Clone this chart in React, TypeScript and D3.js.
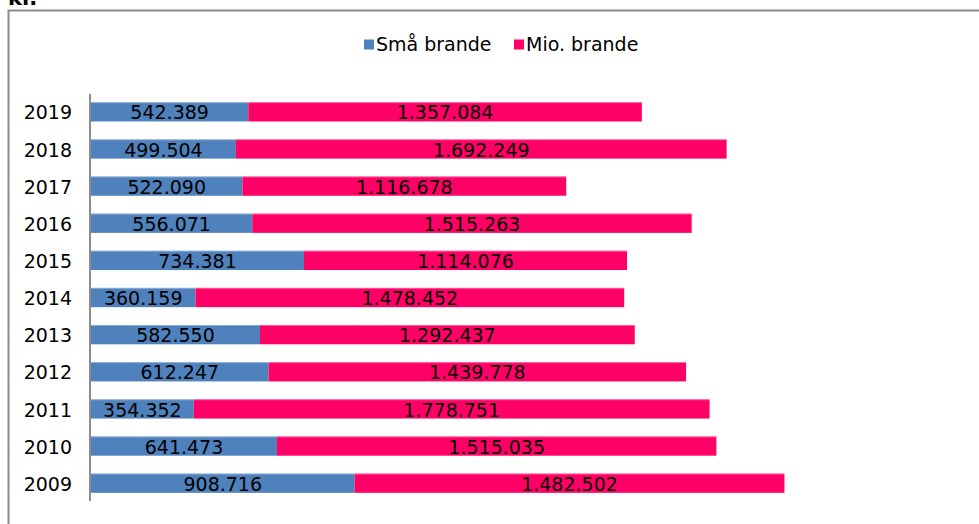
import React from "react";
import * as d3 from "d3";

// years top to bottom, as shown
const years = ["2019", "2018", "2017", "2016", "2015", "2014", "2013", "2012", "2011", "2010", "2009"];
const smaBrande = [542389, 499504, 522090, 556071, 734381, 360159, 582550, 612247, 354352, 641473, 908716];
const mioBrande = [1357084, 1692249, 1116678, 1515263, 1114076, 1478452, 1292437, 1439778, 1778751, 1515035, 1482502];
const seriesNames = ["Små brande", "Mio. brande"];
const colors = ["#4F81BD", "#FF0066"];

const W = 979;
const H = 524;
const FONT = "Verdana, 'DejaVu Sans', sans-serif";

const fmt = (v: number) => d3.format(",")(v).replace(/,/g, ".");

export default function App() {
  const x = d3.scaleLinear().domain([0, 2500000]).range([91, 816]);
  const y = d3.scaleBand().domain(years).range([94, 501]).paddingInner(0.48).paddingOuter(0.22);

  const rows = years.map((yr, i) => ({ yr, a: smaBrande[i], b: mioBrande[i] }));

  return (
    <svg width={W} height={H} style={{ position: "absolute", left: 0, top: 0 }} fontFamily={FONT}>
      <rect width={W} height={H} fill="#fff" />
      <text x={8} y={5} fontSize={21} fontWeight="bold" fill="#000">kr.</text>
      {/* chart frame */}
      <path d={`M8.5,${H + 5} V10.5 H${W + 5}`} fill="none" stroke="#8c8c8c" strokeWidth={2} />

      {/* legend */}
      {seriesNames.map((name, i) => {
        const lx = i === 0 ? 364 : 514;
        return (
          <g key={name}>
            <rect x={lx} y={39.5} width={10} height={10} fill={colors[i]} />
            <text x={lx + 12} y={51} fontSize={19} fill="#000">{name}</text>
          </g>
        );
      })}

      {/* bars */}
      {rows.map((r) => {
        const y0 = y(r.yr)!;
        const bw = y.bandwidth();
        const cy = y0 + bw / 2;
        return (
          <g key={r.yr}>
            <rect x={x(0)} y={y0} width={x(r.a) - x(0)} height={bw} fill={colors[0]} />
            <rect x={x(r.a)} y={y0} width={x(r.a + r.b) - x(r.a)} height={bw} fill={colors[1]} />
            <line x1={x(0)} x2={x(r.a + r.b)} y1={y0 + 0.5} y2={y0 + 0.5} stroke="#fff" strokeOpacity={0.35} />
            <text x={(x(0) + x(r.a)) / 2} y={cy} dy="0.4em" textAnchor="middle" fontSize={19} fill="#000">{fmt(r.a)}</text>
            <text x={(x(r.a) + x(r.a + r.b)) / 2} y={cy} dy="0.4em" textAnchor="middle" fontSize={19} fill="#000">{fmt(r.b)}</text>
            <text x={72} y={cy} dy="0.4em" textAnchor="end" fontSize={19} fill="#000">{r.yr}</text>
          </g>
        );
      })}

      {/* category axis line */}
      <line x1={90} x2={90} y1={94} y2={501} stroke="#8c8c8c" strokeWidth={2} />
    </svg>
  );
}
